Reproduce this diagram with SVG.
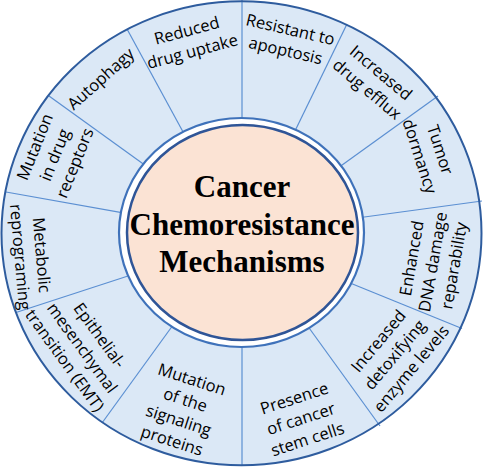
<svg xmlns="http://www.w3.org/2000/svg" width="484" height="469" viewBox="0 0 484 469">
<style>
.lbl{font-family:"Open Sans","Noto Sans","Liberation Sans",sans-serif;font-size:16.5px;font-weight:500;fill:#000;text-anchor:middle}
.title{font-family:"Liberation Serif","Times New Roman",serif;font-weight:bold;font-size:31px;fill:#000;text-anchor:middle}
.div{stroke:#5b8fd2;stroke-width:1.2;fill:none}
</style>
<rect width="484" height="469" fill="#fff"/>
<g id="ring-bg">
<ellipse cx="241.5" cy="233.3" rx="240" ry="232" fill="#dbe8f6"/>
</g>
<g id="connectors">
<line class="div" x1="242" y1="125" x2="242" y2="0"/>
<line class="div" x1="293.5" y1="134" x2="347" y2="24"/>
<line class="div" x1="335.5" y1="169.7" x2="438" y2="96"/>
<line class="div" x1="357" y1="218" x2="482" y2="201"/>
<line class="div" x1="347.6" y1="282" x2="462" y2="328.5"/>
<line class="div" x1="307.3" y1="325.5" x2="380" y2="426"/>
<line class="div" x1="242" y1="340" x2="242" y2="466"/>
<line class="div" x1="172.7" y1="325.5" x2="102" y2="423"/>
<line class="div" x1="132.6" y1="274.5" x2="16" y2="312.5"/>
<line class="div" x1="125.9" y1="213.4" x2="6" y2="192"/>
<line class="div" x1="148.5" y1="167.7" x2="49" y2="96"/>
<line class="div" x1="185.8" y1="137" x2="127" y2="29"/>
</g>
<g id="ring-border">
<ellipse cx="241.5" cy="233.3" rx="240" ry="232" fill="none" stroke="#2e5c9e" stroke-width="2"/>
<ellipse cx="241.5" cy="232.5" rx="122.5" ry="114.5" fill="#fff" stroke="#3f72ba" stroke-width="2.2"/>
</g>
<g id="center">
<ellipse cx="242.5" cy="232.5" rx="115.5" ry="107.5" fill="#fbe3d4" stroke="#2f5597" stroke-width="2.5"/>
<text class="title"><tspan x="242" y="197">Cancer</tspan><tspan x="242" y="234.5">Chemoresistance</tspan><tspan x="242" y="272">Mechanisms</tspan></text>
</g>
<g id="reduced-drug-uptake" transform="translate(189.5,41) rotate(-15)"><text class="lbl"><tspan x="0" y="-5">Reduced</tspan><tspan x="0" y="16.5">drug uptake</tspan></text></g>
<g id="resistant-to-apoptosis" transform="translate(288,40) rotate(13)"><text class="lbl"><tspan x="0" y="-5">Resistant to</tspan><tspan x="0" y="16.5">apoptosis</tspan></text></g>
<g id="increased-drug-efflux" transform="translate(374,81) rotate(40)"><text class="lbl"><tspan x="0" y="-5">Increased</tspan><tspan x="0" y="16.5">drug efflux</tspan></text></g>
<g id="tumor-dormancy" transform="translate(430,153) rotate(72)"><text class="lbl"><tspan x="0" y="-5">Tumor</tspan><tspan x="0" y="16.5">dormancy</tspan></text></g>
<g id="enhanced-dna-damage-reparability" transform="translate(433,262) rotate(-80)"><text class="lbl"><tspan x="0" y="-16">Enhanced</tspan><tspan x="0" y="5.5">DNA damage</tspan><tspan x="0" y="27">reparability</tspan></text></g>
<g id="increased-detoxifying-enzyme-levels" transform="translate(395,355) rotate(-50)"><text class="lbl"><tspan x="0" y="-16">Increased</tspan><tspan x="0" y="5.5">detoxifying</tspan><tspan x="0" y="27">enzyme levels</tspan></text></g>
<g id="presence-of-cancer-stem-cells" transform="translate(301,419) rotate(-18)"><text class="lbl"><tspan x="0" y="-16">Presence</tspan><tspan x="0" y="5.5">of cancer</tspan><tspan x="0" y="27">stem cells</tspan></text></g>
<g id="mutation-of-signaling-proteins" transform="translate(182,410) rotate(18)"><text class="lbl"><tspan x="0" y="-26.5">Mutation</tspan><tspan x="0" y="-5">of the</tspan><tspan x="0" y="16.5">signaling</tspan><tspan x="0" y="38">proteins</tspan></text></g>
<g id="emt" transform="translate(82,348) rotate(54)"><text class="lbl"><tspan x="0" y="-16">Epithelial-</tspan><tspan x="0" y="5.5">mesenchymal</tspan><tspan x="0" y="27">transition (EMT)</tspan></text></g>
<g id="metabolic-reprograming" transform="translate(31,256) rotate(85)"><text class="lbl"><tspan x="0" y="-5">Metabolic</tspan><tspan x="0" y="16.5">reprograming</tspan></text></g>
<g id="mutation-in-drug-receptors" transform="translate(55,155) rotate(-68)"><text class="lbl"><tspan x="0" y="-16">Mutation</tspan><tspan x="0" y="5.5">in drug</tspan><tspan x="0" y="27">receptors</tspan></text></g>
<g id="autophagy" transform="translate(101,79) rotate(-42)"><text class="lbl"><tspan x="0" y="5.5">Autophagy</tspan></text></g>
</svg>
